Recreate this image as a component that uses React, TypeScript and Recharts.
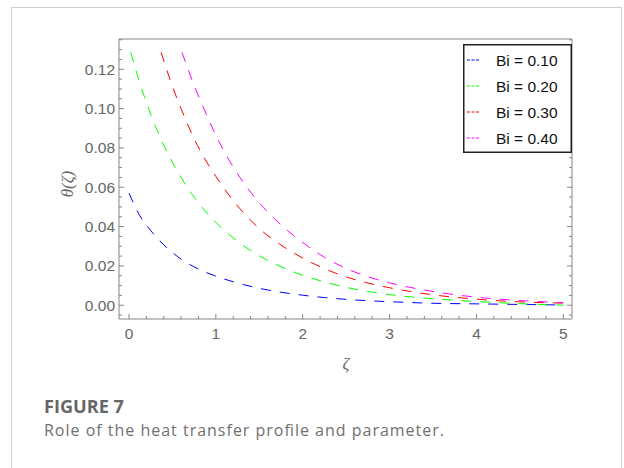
import React from 'react'
import { LineChart, Line, XAxis, YAxis, Legend } from 'recharts'

// ζ positions and θ(ζ) values, one pair of arrays per Bi
const BI_LABELS = ['Bi = 0.10', 'Bi = 0.20', 'Bi = 0.30', 'Bi = 0.40']
const BI_COLORS = ['#0000ff', '#00ff00', '#ff0000', '#ff00ff']

const BLUE_Z = [0, 0.125, 0.25, 0.5, 0.75, 1.0, 1.25, 1.5, 1.75, 2.0, 2.25, 2.5, 2.75, 3.0, 3.5, 4.0, 4.5, 5.0]
const BLUE_T = [0.057, 0.0455, 0.038, 0.0268, 0.0195, 0.0148, 0.0113, 0.0086, 0.0066, 0.0051, 0.0039, 0.003, 0.0023, 0.0018, 0.001, 0.0007, 0.0004, 0.0001]

const GREEN_Z = [0.02, 0.125, 0.25, 0.375, 0.5, 0.75, 1.0, 1.25, 1.5, 1.75, 2.0, 2.25, 2.5, 2.75, 3.0, 3.5, 4.0, 4.5, 5.0]
const GREEN_T = [0.1286, 0.113, 0.0971, 0.0838, 0.0726, 0.055, 0.0421, 0.0325, 0.0251, 0.0196, 0.0152, 0.0119, 0.0091, 0.007, 0.0054, 0.0033, 0.0019, 0.0008, 0.0]

const RED_Z = [0.37, 0.5, 0.625, 0.75, 0.875, 1.0, 1.25, 1.5, 1.75, 2.0, 2.25, 2.5, 2.75, 3.0, 3.5, 4.0, 4.5, 5.0]
const RED_T = [0.1286, 0.1113, 0.0973, 0.0847, 0.0743, 0.0655, 0.0505, 0.039, 0.0306, 0.024, 0.0186, 0.0144, 0.0113, 0.0089, 0.0053, 0.0031, 0.0017, 0.0011]

const MAG_Z = [0.61, 0.75, 0.875, 1.0, 1.25, 1.5, 1.75, 2.0, 2.25, 2.5, 2.75, 3.0, 3.5, 4.0, 4.5, 5.0]
const MAG_T = [0.1286, 0.1118, 0.0987, 0.0864, 0.0668, 0.0521, 0.0409, 0.0319, 0.0244, 0.0187, 0.0145, 0.0114, 0.007, 0.0041, 0.0024, 0.0013]

const X_MAJOR = [0, 1, 2, 3, 4, 5]
const X_MINOR = [0.2, 0.4, 0.6, 0.8, 1.2, 1.4, 1.6, 1.8, 2.2, 2.4, 2.6, 2.8, 3.2, 3.4, 3.6, 3.8, 4.2, 4.4, 4.6, 4.8]
const Y_MAJOR = [0, 0.02, 0.04, 0.06, 0.08, 0.1, 0.12]
const Y_MINOR = [-0.005, 0.005, 0.01, 0.015, 0.025, 0.03, 0.035, 0.045, 0.05, 0.055, 0.065, 0.07, 0.075, 0.085, 0.09, 0.095, 0.105, 0.11, 0.115, 0.125, 0.13, 0.135]

const X_DOMAIN: [number, number] = [-0.115, 5.1]
const Y_DOMAIN: [number, number] = [-0.007, 0.1354]

const toRows = (z: number[], t: number[]) => z.map((v, i) => ({ z: v, t: t[i] }))
const SERIES = [
  toRows(BLUE_Z, BLUE_T),
  toRows(GREEN_Z, GREEN_T),
  toRows(RED_Z, RED_T),
  toRows(MAG_Z, MAG_T),
]

const FRAME = '#858585'
const TICK_TEXT = '#666'
const TICK_FONT = '"Liberation Sans", Arial, sans-serif'
const CAPTION_FONT = '"Open Sans", sans-serif'

const isMajor = (list: number[], v: number) => list.some((m) => Math.abs(m - v) < 1e-9)

function makeTick(side: 'bottom' | 'top' | 'left' | 'right') {
  return (props: any) => {
    const { x, y, payload } = props
    const v = payload.value
    const major = side === 'bottom' || side === 'top' ? isMajor(X_MAJOR, v) : isMajor(Y_MAJOR, v)
    const len = major ? 5 : 3
    let line
    if (side === 'bottom') line = <line x1={x} y1={y} x2={x} y2={y - len} />
    else if (side === 'top') line = <line x1={x} y1={y} x2={x} y2={y + len} />
    else if (side === 'left') line = <line x1={x} y1={y} x2={x + len} y2={y} />
    else line = <line x1={x} y1={y} x2={x - len} y2={y} />
    return (
      <g stroke={FRAME} strokeWidth={1}>
        {line}
        {major && side === 'bottom' && (
          <text x={x} y={y + 20} textAnchor="middle" fill={TICK_TEXT} stroke="none" fontSize={15.5} fontFamily={TICK_FONT}>
            {v}
          </text>
        )}
        {major && side === 'left' && (
          <text x={x - 4} y={y + 5.5} textAnchor="end" fill={TICK_TEXT} stroke="none" fontSize={15.5} fontFamily={TICK_FONT}>
            {v.toFixed(2)}
          </text>
        )}
      </g>
    )
  }
}

function LegendBox() {
  return (
    <svg width={109} height={109} style={{ display: 'block' }}>
      <rect x={0.75} y={0.75} width={107.5} height={107.5} fill="#fff" stroke="#222" strokeWidth={1.5} />
      {BI_LABELS.map((label, i) => (
        <g key={label}>
          <line x1={4} x2={16} y1={16 + i * 26} y2={16 + i * 26} stroke={BI_COLORS[i]} strokeWidth={1} strokeDasharray="3 1.5" />
          <text x={33} y={21.5 + i * 26} fontSize={15.5} fontFamily={TICK_FONT} fill="#111">
            {label}
          </text>
        </g>
      ))}
    </svg>
  )
}

export default function App() {
  const xTicks = [...X_MAJOR, ...X_MINOR]
  const yTicks = [...Y_MAJOR, ...Y_MINOR]
  return (
    <div style={{ position: 'absolute', left: 0, top: 0, width: 624, height: 468, overflow: 'hidden', background: '#fff' }}>
      <svg width={624} height={468} style={{ position: 'absolute', left: 0, top: 0 }}>
        <rect x={11.5} y={7.5} width={610} height={480} fill="none" stroke="#cfcfcf" strokeWidth={1} />
        <text x={73} y={184} transform="rotate(-90 73 184)" textAnchor="middle" fontSize={17} fontStyle="italic" fontFamily='"Liberation Serif", serif' fill={TICK_TEXT}>
          θ(ζ)
        </text>
        <text x={346} y={369} textAnchor="middle" fontSize={17} fontStyle="italic" fontFamily='"Liberation Serif", serif' fill={TICK_TEXT}>
          ζ
        </text>
        <text x={44} y={412.5} fontSize={17.5} fontWeight={700} fontFamily={CAPTION_FONT} fill="#666" textLength={80} lengthAdjust="spacingAndGlyphs">
          FIGURE 7
        </text>
        <text x={44} y={435.5} fontSize={16} fontFamily={CAPTION_FONT} fill="#707070" textLength={400} lengthAdjust="spacing">
          Role of the heat transfer profile and parameter.
        </text>
      </svg>
      <div style={{ position: 'absolute', left: 0, top: 0 }}>
        <LineChart width={624} height={468} margin={{ top: 29, right: 42, bottom: 119, left: 79 }}>
          <XAxis xAxisId="b" dataKey="z" type="number" domain={X_DOMAIN} allowDataOverflow ticks={xTicks} interval={0}
            tickSize={0} tickMargin={0} height={30} stroke={FRAME} tick={makeTick('bottom')} />
          <XAxis xAxisId="t" orientation="top" type="number" domain={X_DOMAIN} allowDataOverflow ticks={xTicks} interval={0}
            tickSize={0} tickMargin={0} height={10} stroke={FRAME} tick={makeTick('top')} />
          <YAxis yAxisId="l" type="number" domain={Y_DOMAIN} allowDataOverflow ticks={yTicks} interval={0}
            tickSize={0} tickMargin={0} width={40} stroke={FRAME} tick={makeTick('left')} />
          <YAxis yAxisId="r" orientation="right" type="number" domain={Y_DOMAIN} allowDataOverflow ticks={yTicks} interval={0}
            tickSize={0} tickMargin={0} width={10} stroke={FRAME} tick={makeTick('right')} />
          <Legend layout="vertical" align="center" verticalAlign="middle"
            wrapperStyle={{ left: 463, top: 44, width: 109, height: 109 }} content={() => <LegendBox />} />
          {SERIES.map((rows, i) => (
            <Line key={BI_LABELS[i]} name={BI_LABELS[i]} xAxisId="b" yAxisId="l" data={rows} dataKey="t" type="monotone"
              stroke={BI_COLORS[i]} strokeWidth={1} strokeDasharray="10 9" dot={false} activeDot={false} isAnimationActive={false} />
          ))}
        </LineChart>
      </div>
    </div>
  )
}
